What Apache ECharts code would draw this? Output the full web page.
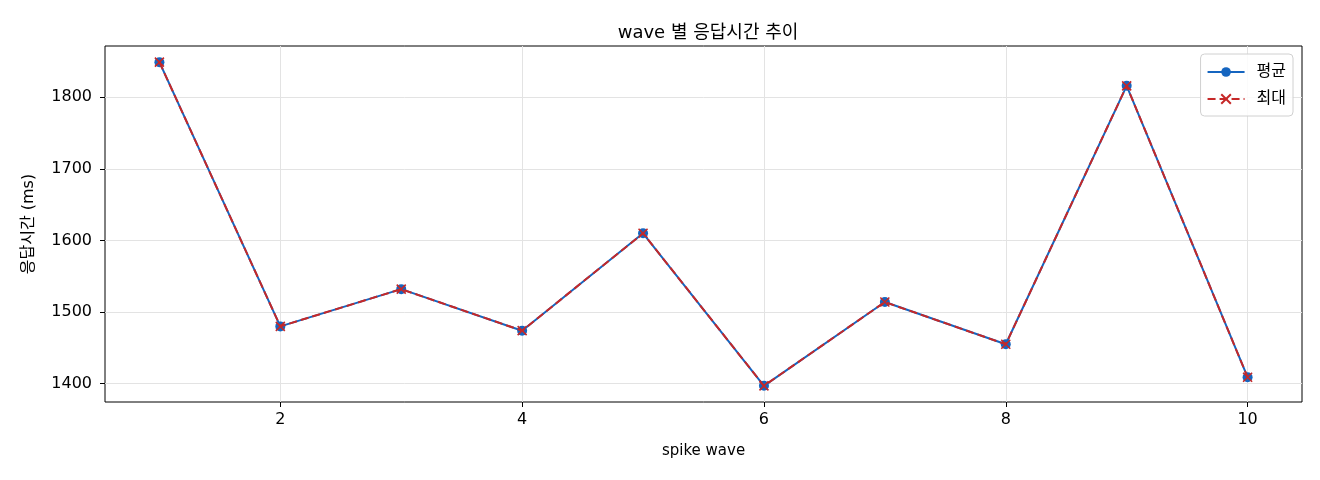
<!DOCTYPE html>
<html>
<head>
<meta charset="utf-8">
<script src="https://cdn.jsdelivr.net/npm/echarts@6/dist/echarts.min.js"></script>
<style>
	html, body { margin: 0; padding: 0; background: #fff; }
	#chart { width: 1320px; height: 480px; }
</style>
</head>
<body>
<div id="chart"></div>
<script>
const FONT = '"DejaVu Sans", "Noto Sans CJK KR", sans-serif';

const waves = [1, 2, 3, 4, 5, 6, 7, 8, 9, 10];
const avgMs = [1849, 1480, 1532, 1474, 1610, 1397, 1514, 1455, 1816, 1409];
const maxMs = [1849, 1480, 1532, 1474, 1610, 1397, 1514, 1455, 1816, 1409];
const xTicks = [2, 4, 6, 8, 10];
const yTicks = [1400, 1500, 1600, 1700, 1800];

const BLUE = '#1565c0';
const RED = '#c62828';
const X_MARK = 'path://M0,0L10,10M10,0L0,10';

// matplotlib style 5% margins
function padded(values, frac) {
	const lo = Math.min(...values);
	const hi = Math.max(...values);
	const pad = (hi - lo) * frac;
	return [lo - pad, hi + pad];
}

const [xMin, xMax] = padded(waves, 0.05);
const [yMin, yMax] = padded(avgMs.concat(maxMs), 0.05);

const element = document.getElementById('chart');
const chart = echarts.init(element);

const option = {
	animation: false,
	textStyle: { fontFamily: FONT },
	title: {
		text: 'wave 별 응답시간 추이',
		left: 703,
		top: 19,
		textAlign: 'center',
		textStyle: { fontFamily: FONT, fontSize: 18, fontWeight: 'normal', color: '#000' }
	},
	legend: {
		right: 27,
		top: 54,
		orient: 'vertical',
		itemWidth: 37,
		itemHeight: 12,
		itemGap: 11,
		padding: [10, 7, 9, 6],
		borderColor: '#d0d0d0',
		borderWidth: 1,
		borderRadius: 4,
		backgroundColor: 'rgba(255,255,255,0.85)',
		textStyle: { fontFamily: FONT, fontSize: 16, color: '#000', padding: [0, 0, 0, 7] },
		data: ['평균', '최대']
	},
	grid: {
		left: 105,
		right: 18,
		top: 46,
		bottom: 78,
		show: true,
		borderColor: '#000',
		borderWidth: 1,
		backgroundColor: 'transparent'
	},
	xAxis: {
		type: 'value',
		min: xMin,
		max: xMax,
		name: 'spike wave',
		nameLocation: 'middle',
		nameGap: 42,
		nameTextStyle: { fontFamily: FONT, fontSize: 15, color: '#000' },
		axisLine: { show: false },
		axisTick: { show: true, length: 5, lineStyle: { color: '#000' }, customValues: xTicks },
		axisLabel: { fontFamily: FONT, fontSize: 16, color: '#000', margin: 10, customValues: xTicks, formatter: v => String(v) },
		splitLine: { show: true, lineStyle: { color: '#e3e3e3', width: 1 } }
	},
	yAxis: {
		type: 'value',
		min: yMin,
		max: yMax,
		name: '응답시간 (ms)',
		nameLocation: 'middle',
		nameGap: 68,
		nameTextStyle: { fontFamily: FONT, fontSize: 16, color: '#000' },
		axisLine: { show: false },
		axisTick: { show: true, length: 5, lineStyle: { color: '#000' }, customValues: yTicks },
		axisLabel: { fontFamily: FONT, fontSize: 16, color: '#000', margin: 13, customValues: yTicks, formatter: v => String(v) },
		splitLine: { show: true, lineStyle: { color: '#e3e3e3', width: 1 } }
	},
	series: [
		{
			name: '평균',
			type: 'line',
			data: waves.map((w, i) => [w, avgMs[i]]),
			symbol: 'circle',
			symbolSize: 10,
			showAllSymbol: true,
			lineStyle: { color: BLUE, width: 2 },
			itemStyle: { color: BLUE, borderWidth: 0 },
			z: 2
		},
		{
			name: '최대',
			type: 'line',
			data: waves.map((w, i) => [w, maxMs[i]]),
			symbol: X_MARK,
			symbolSize: 9,
			showAllSymbol: true,
			lineStyle: { color: RED, width: 2, type: [8, 4] },
			itemStyle: { color: 'transparent', borderColor: RED, borderWidth: 1.6 },
			z: 3
		}
	]
};

chart.setOption(option);
</script>
</body>
</html>
